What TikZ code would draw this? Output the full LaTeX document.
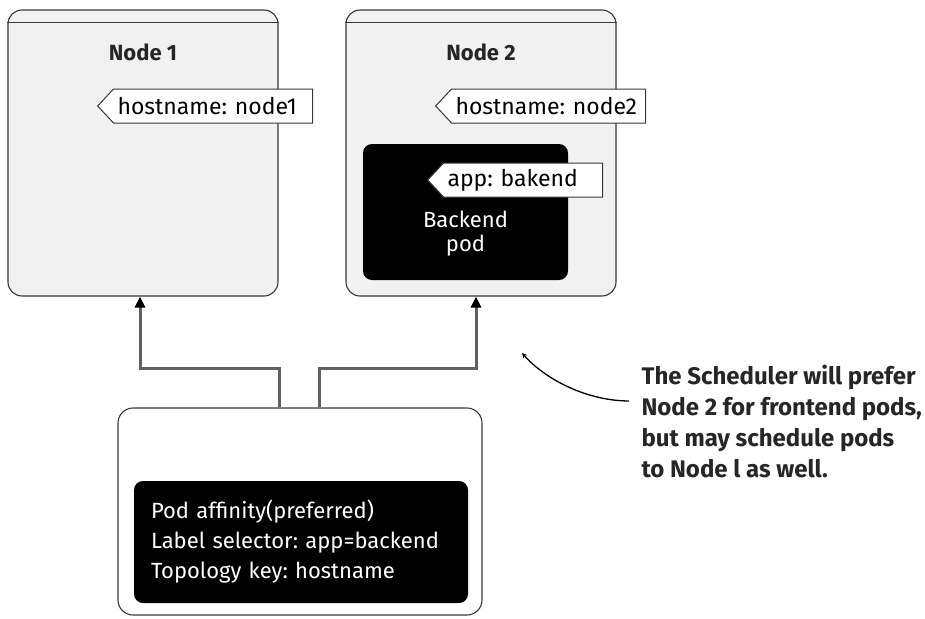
\documentclass[tikz,border=0pt]{standalone}
\usepackage{fontspec}
\setmainfont{Fira Sans}
\frenchspacing
\usetikzlibrary{shapes, arrows, arrows.meta, positioning}
\definecolor{hostfill}{HTML}{F1F1F1}
\definecolor{edge}{HTML}{383838}
\definecolor{wiregray}{HTML}{606060}

\begin{document}
\begin{tikzpicture}[
      x=1pt, y=-1pt,
      font=\fontsize{22}{30}\selectfont,
      node distance=10pt,
      host/.style={rectangle, draw=edge, fill=hostfill, line width=1.1pt, rounded corners=14pt, minimum width=270pt, minimum height=286pt},
      frame/.style={rectangle, draw=edge, fill=white, line width=1.1pt, rounded corners=15pt},
      pod/.style={rectangle, fill=black, text=white, rounded corners=9pt},
      tag/.style={signal, signal to=west, signal pointer angle=94, draw=edge, fill=white, line width=1pt, minimum height=34pt, inner xsep=4pt, align=left, anchor=west, font=\fontsize{23}{26}\selectfont},
      title/.style={font=\fontsize{22}{26}\selectfont\bfseries, text=black!85},
      conn/.style={draw=wiregray, line width=3pt, -{Triangle[length=11pt, width=10pt, color=black]}},
      arrow/.style={line width=1.3pt, ->, >=stealth}
    ]
      \useasboundingbox (0,0) rectangle (925,618);

      % the two worker nodes
      \node (n1) [host] at (143,153) {};
      \node (n2) [host] at (481,153) {};
      \draw [edge, line width=1.1pt] ([yshift=-13pt]n1.north west) -- ([yshift=-13pt]n1.north east);
      \draw [edge, line width=1.1pt] ([yshift=-13pt]n2.north west) -- ([yshift=-13pt]n2.north east);
      \node (n1name) [title, below=31pt of n1.north] {Node 1};
      \node (n2name) [title, below=31pt of n2.north] {Node 2};
      \node (n1tag) [tag, text width=191pt] at (97,106) {hostname: node1};
      \node (n2tag) [tag, text width=186pt] at (435,106) {hostname: node2};

      % backend pod on node 2
      \node (bepod) [pod, minimum width=205pt, minimum height=136pt] at (465.5,212) {};
      \node (betext) [text=white, align=center, font=\fontsize{22}{24}\selectfont] at ([yshift=-22pt]bepod.center) {Backend\\pod};
      \node (apptag) [tag, text width=151pt] at (427,180) {app: bakend};

      % new pod with affinity rule
      \node (newpod) [frame, minimum width=364pt, minimum height=207pt] at (300,511.5) {};
      \node (rule) [pod, align=left, text width=300pt, inner xsep=17pt, minimum height=122pt] at (301,542) {Pod affinity(preferred)\\Label selector: app=backend\\Topology key: hostname};

      \draw [conn] ([xshift=-21pt]newpod.north) -- ++(0,-39) -| ([xshift=-3pt]n1.south);
      \draw [conn] ([xshift=19pt]newpod.north) -- ++(0,-39) -| ([xshift=-5pt]n2.south);

      % scheduler note
      \node (note) [anchor=north west, align=left, font=\fontsize{24}{31}\selectfont\bfseries, text=black!85] at (638,361) {The Scheduler will prefer\\Node 2 for frontend pods,\\but may schedule pods\\to Node l as well.};
      \coordinate (tip) at (522,353);
      \draw [arrow] ([xshift=-9pt,yshift=20pt]note.west) .. controls +(-40,0) and +(25,28) .. (tip);
    \end{tikzpicture}
\end{document}
